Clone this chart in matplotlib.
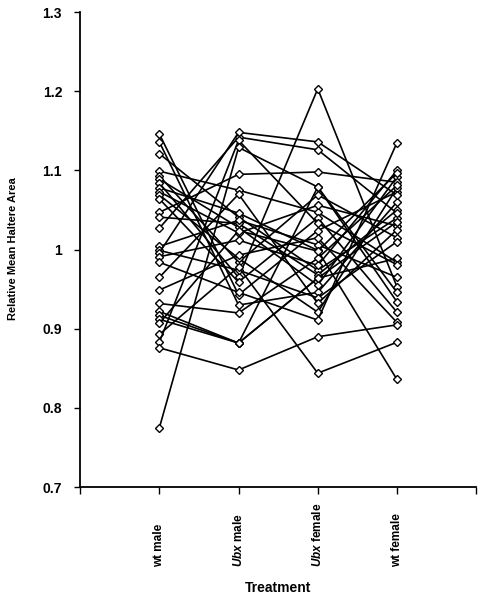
import matplotlib
matplotlib.use('Agg')
import matplotlib.pyplot as plt
from matplotlib import transforms

plt.rcParams['font.family'] = 'Liberation Sans'
plt.rcParams['mathtext.fontset'] = 'custom'
plt.rcParams['mathtext.it'] = 'Liberation Sans:italic:bold'

categories = ['wt male', r'$Ubx$ male', r'$Ubx$ female', 'wt female']
ytick_labels = ['0.7', '0.8', '0.9', '1', '1.1', '1.2', '1.3']
yticks = [0.7, 0.8, 0.9, 1.0, 1.1, 1.2, 1.3]

# one entry per fly line
wt_male = [1.146, 1.136, 1.121, 1.099, 1.093, 1.089, 1.084, 1.078, 1.073, 1.069,
           1.064, 1.047, 1.041, 1.027, 1.004, 0.999, 0.996, 0.991, 0.984, 0.965,
           0.949, 0.932, 0.922, 0.917, 0.912, 0.907, 0.893, 0.883, 0.876, 0.775]
ubx_male = [0.943, 0.930, 1.041, 1.075, 0.984, 1.028, 0.965, 1.046, 1.021, 0.989,
            0.959, 1.095, 1.033, 1.142, 1.037, 0.974, 1.148, 1.012, 0.946, 1.070,
            0.993, 0.920, 0.882, 0.882, 0.882, 1.024, 0.978, 1.138, 0.848, 1.129]
ubx_female = [1.024, 0.946, 0.974, 1.047, 1.069, 0.955, 1.203, 0.999, 1.056, 0.921,
              1.040, 1.098, 0.968, 1.126, 1.006, 0.939, 1.136, 0.980, 0.911, 0.932,
              1.015, 0.989, 1.079, 0.964, 0.964, 0.998, 0.844, 1.033, 0.890, 1.079]
wt_female = [1.073, 1.060, 1.040, 0.984, 1.015, 1.092, 0.953, 0.836, 1.030, 1.078,
             0.921, 1.085, 1.050, 1.046, 0.965, 1.010, 1.069, 1.100, 1.135, 1.025,
             0.908, 1.081, 0.946, 1.035, 0.989, 1.097, 0.883, 0.981, 0.905, 0.934]

fig = plt.figure(figsize=(4.8, 6.0), dpi=100)
ax = fig.add_axes([0.167, 0.188, 0.825, 0.792])

xs = [1, 2, 3, 4]
for vals in zip(wt_male, ubx_male, ubx_female, wt_female):
    ax.plot(xs, vals, color='black', lw=1.2, marker='D', ms=3.6,
            mfc='white', mec='black', mew=1.0)

ax.set_xlim(0, 5)
ax.set_ylim(0.7, 1.3)
ax.set_yticks(yticks)
ax.set_yticklabels(ytick_labels, fontweight='bold', fontsize=10)
ax.set_xticks([0, 1, 2, 3, 4, 5])
ax.set_xticklabels([])
ax.tick_params(axis='y', length=4, width=1, pad=9)
ax.tick_params(axis='x', length=5, width=1)
for s in ['top', 'right']:
    ax.spines[s].set_visible(False)
for s in ['left', 'bottom']:
    ax.spines[s].set_linewidth(1.3)

trans = transforms.blended_transform_factory(ax.transData, ax.transAxes)
for x, lab in zip(xs, categories):
    ax.text(x, -0.168, lab, transform=trans, rotation=90, ha='center',
            va='bottom', fontsize=8.5, fontweight='bold')

ax.text(0.5, -0.212, 'Treatment', transform=ax.transAxes, ha='center',
        va='center', fontsize=10, fontweight='bold')
fig.text(0.027, 0.585, 'Relative Mean Haltere Area', rotation=90, ha='center',
         va='center', fontsize=8, fontweight='bold')

fig.savefig('out.png', dpi=100)
